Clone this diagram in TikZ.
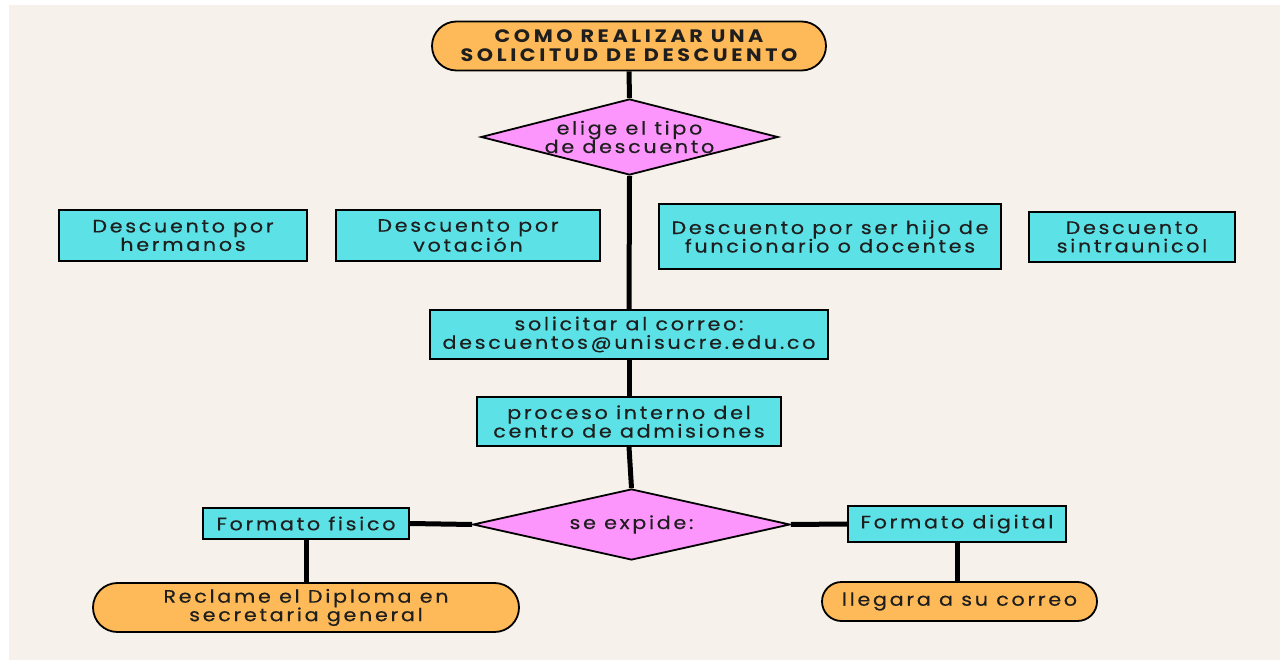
\documentclass[tikz,border=0pt]{standalone}
\usepackage{fontspec}
\setmainfont{Poppins}[FakeStretch=1.15, LetterSpace=15, FakeBold=0.4]
\newfontfamily\titlefont{Poppins}[FakeStretch=1.15, LetterSpace=20]
\usetikzlibrary{shapes.geometric,shapes.misc}
\definecolor{cream}{HTML}{F6F2EB}
\definecolor{pill}{HTML}{FEBA58}
\definecolor{boxc}{HTML}{5CE1E6}
\definecolor{diam}{HTML}{FC96FC}
\definecolor{ink}{HTML}{1E1E1E}
\tikzset{
  base/.style={draw=black, line width=1.8pt, text=ink, align=center, inner sep=0pt,
    font=\fontsize{18}{18.5}\selectfont},
  boxnode/.style={base, rectangle, fill=boxc},
  pillnode/.style={base, rounded rectangle, fill=pill},
  diamnode/.style={base, diamond, fill=diam},
  conn/.style={line width=5pt, draw=black},
}
\begin{document}
\begin{tikzpicture}[x=1pt,y=-1pt]
\useasboundingbox (0,0) rectangle (1280,660);
\fill[white] (0,0) rectangle (1280,660);
\fill[cream] (9,5) rectangle (1280,660);

\node[pillnode, minimum width=394pt, minimum height=49pt,
  font=\titlefont\fontsize{18}{19}\selectfont\bfseries] (title) at (629,46) {COMO REALIZAR UNA\\SOLICITUD DE DESCUENTO};

\node[diamnode, aspect=3.9, minimum width=297pt, minimum height=76pt] (d1) at (629.5,137) {elige el tipo\\de descuento};

\node[boxnode, minimum width=248pt, minimum height=51pt] (herm) at (183,235.5) {Descuento por\\hermanos};
\node[boxnode, minimum width=264pt, minimum height=51pt] (vot) at (468,235.5) {Descuento por\\votación};
\node[boxnode, minimum width=342pt, minimum height=65pt] (hijo) at (830,236.5) {Descuento por ser hijo de\\funcionario o docentes};
\node[boxnode, minimum width=206pt, minimum height=50pt] (sint) at (1132,237) {Descuento\\sintraunicol};

\node[boxnode, minimum width=398pt, minimum height=49pt] (sol) at (629,334.5) {solicitar al correo:\\descuentos@unisucre.edu.co};
\node[boxnode, minimum width=304pt, minimum height=49pt] (proc) at (629,421.5) {proceso interno del\\centro de admisiones};

\node[diamnode, aspect=8.8, minimum width=317pt, minimum height=71pt] (d2) at (631.5,524.5) {se expide:};

\node[boxnode, minimum width=206pt, minimum height=31pt] (fis) at (306,523.5) {Formato fisico};
\node[boxnode, minimum width=218pt, minimum height=36pt] (dig) at (957,524) {Formato digital};

\node[pillnode, minimum width=426pt, minimum height=49pt] (recl) at (306,607.5) {Reclame el Diploma en\\secretaria general};
\node[pillnode, minimum width=275pt, minimum height=39pt] (lleg) at (959.5,601.5) {llegara a su correo};

\draw[conn] (title.south) -- (d1.north);
\draw[conn] (d1.south) -- (sol.north);
\draw[conn] (sol.south) -- (proc.north);
\draw[conn] (proc.south) -- (d2.north);
\draw[conn] (d2.west) -- (fis.east);
\draw[conn] (d2.east) -- (dig.west);
\draw[conn] (fis.south) -- (fis.south |- recl.north);
\draw[conn] (dig.south) -- (dig.south |- lleg.north);
\end{tikzpicture}
\end{document}
